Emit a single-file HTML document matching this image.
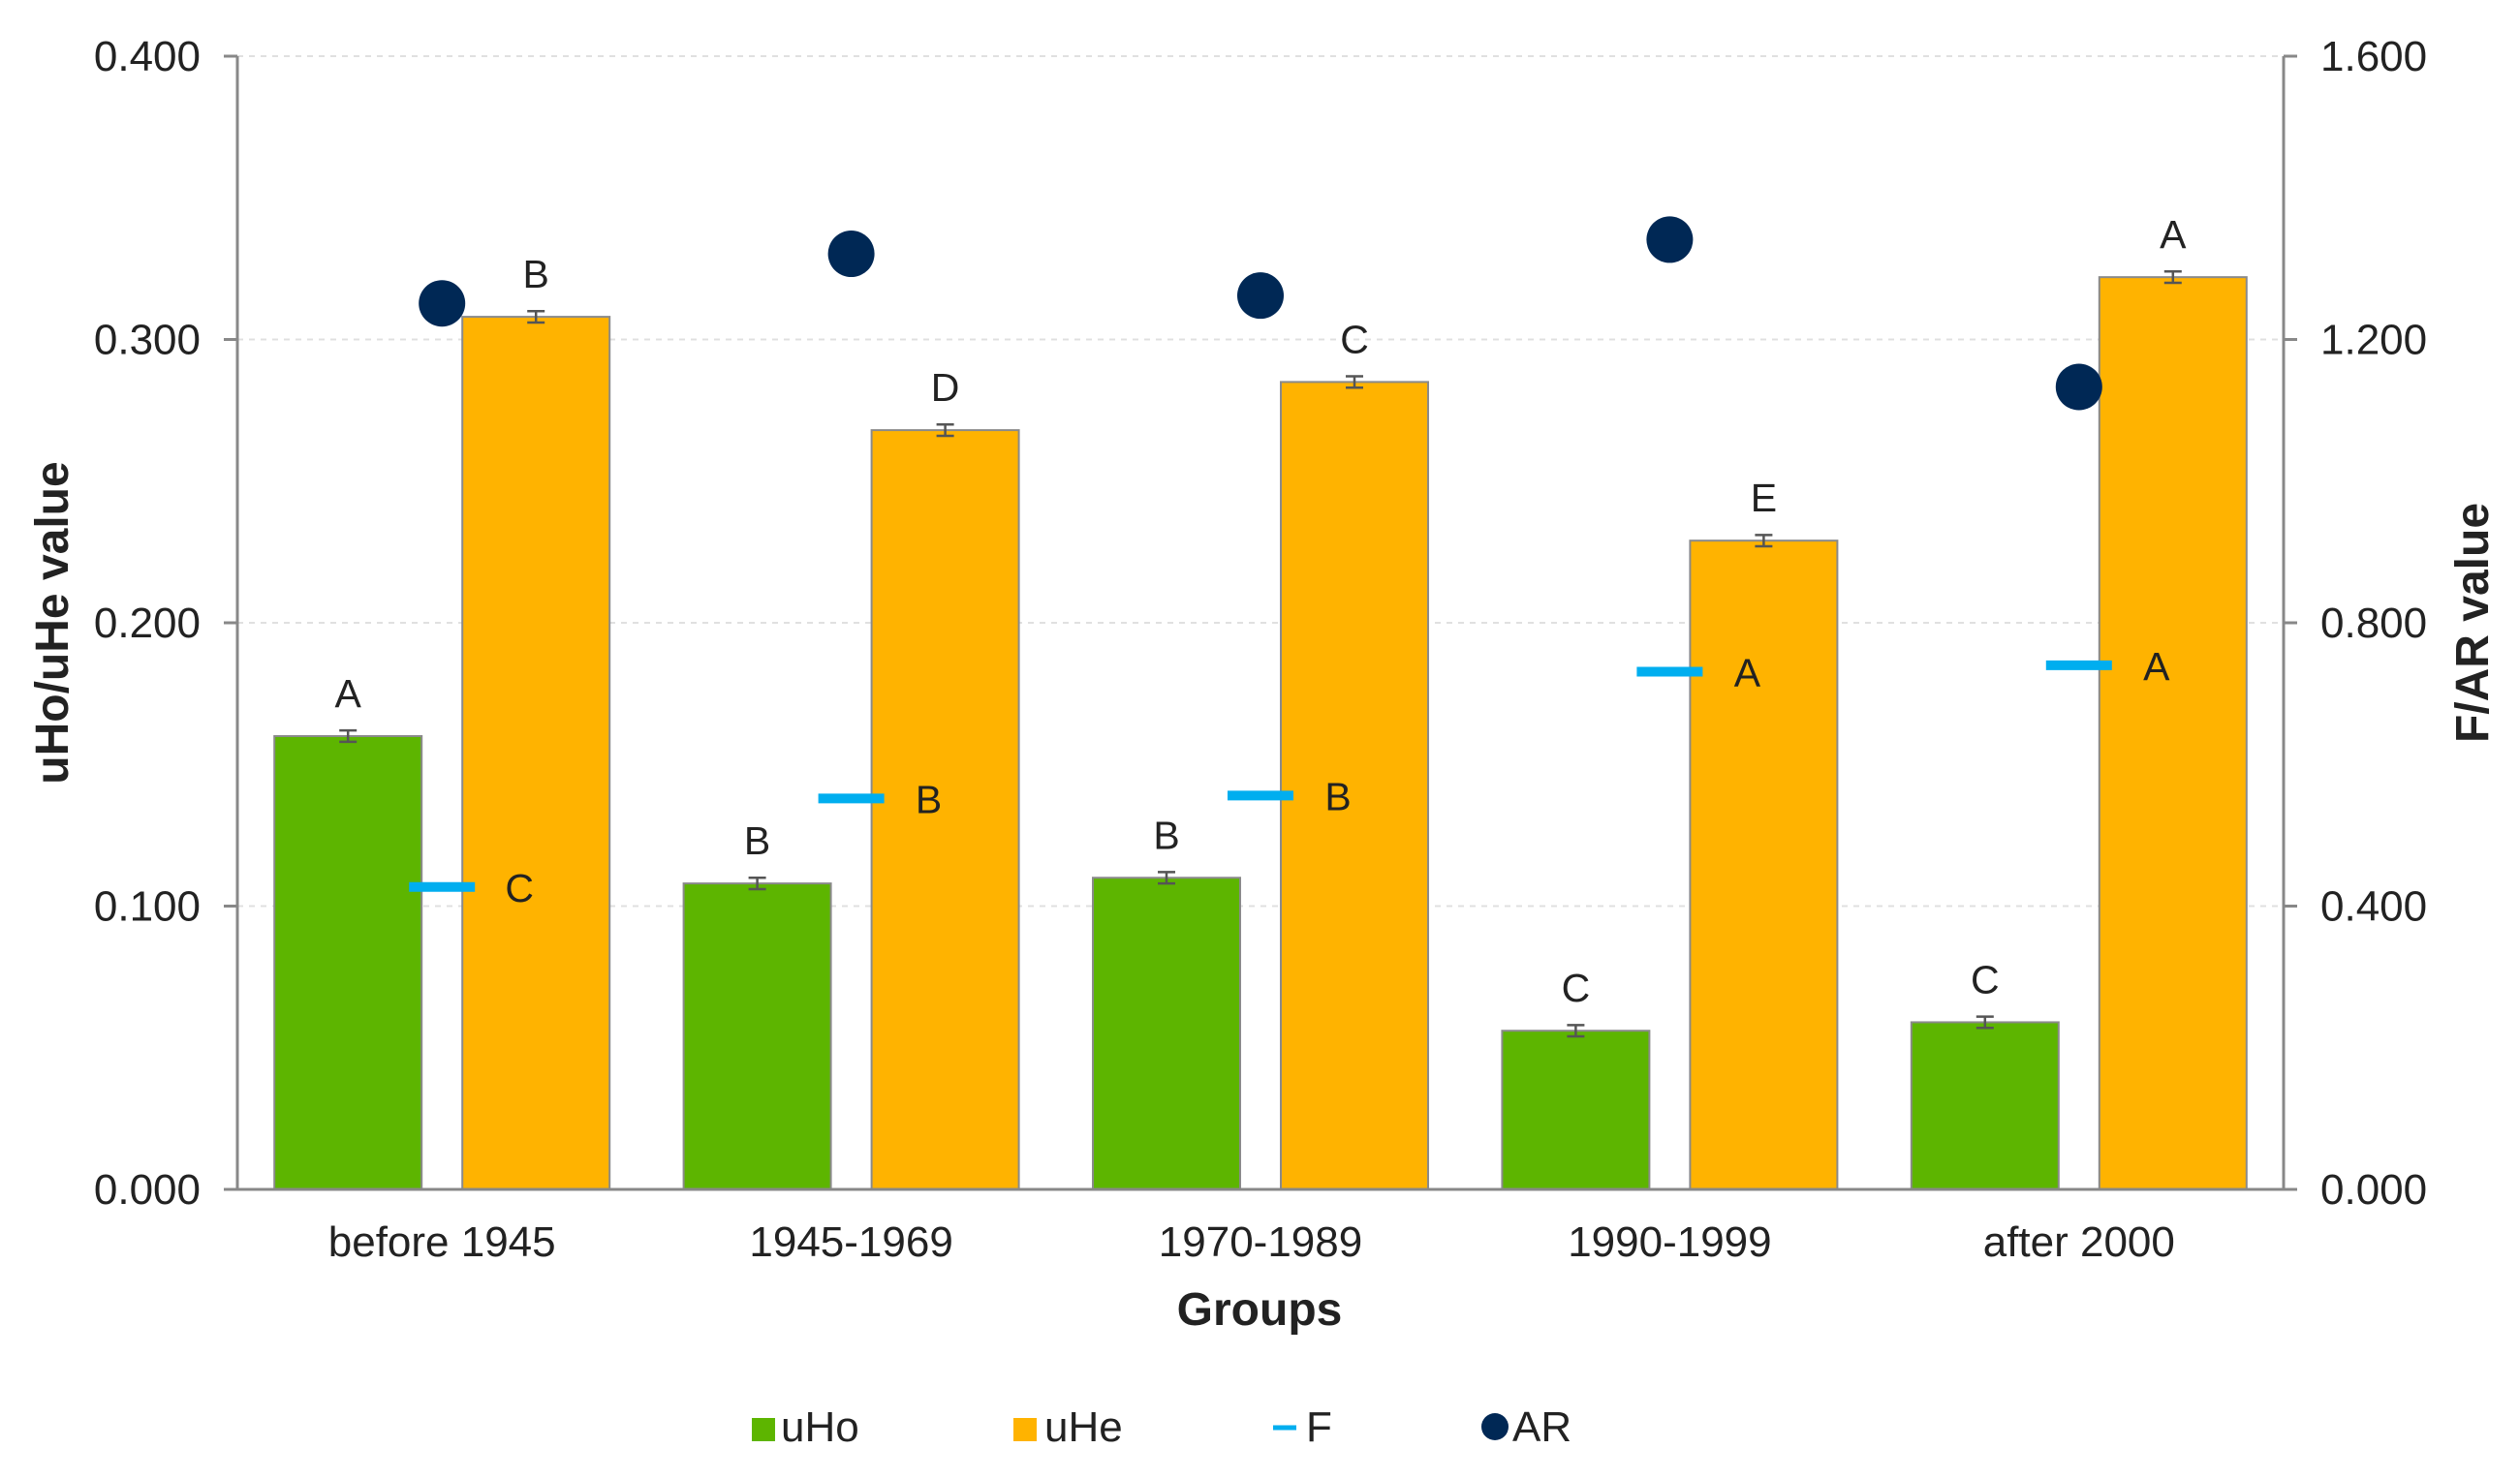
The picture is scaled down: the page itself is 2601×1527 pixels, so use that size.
<!DOCTYPE html>
<html><head><meta charset="utf-8"><style>
html,body{margin:0;padding:0;background:#fff;}
svg{display:block;font-family:"Liberation Sans",Arial,sans-serif;}
</style></head><body>
<svg id="chart" width="2601" height="1527" viewBox="0 0 2601 1527" xmlns="http://www.w3.org/2000/svg"></svg>
<script>
const categories = ["before 1945","1945-1969","1970-1989","1990-1999","after 2000"];
const uHo = [0.160,0.108,0.110,0.056,0.059];
const uHe = [0.308,0.268,0.285,0.229,0.322];
const Fvals = [0.427,0.552,0.556,0.731,0.740];
const ARvals = [1.251,1.321,1.262,1.341,1.133];
const uHoLetters = ["A","B","B","C","C"];
const uHeLetters = ["B","D","C","E","A"];
const FLetters = ["C","B","B","A","A"];
const leftTicks = [0,0.1,0.2,0.3,0.4];
const rightTicks = [0,0.4,0.8,1.2,1.6];
const errUHo = [0.002,0.002,0.002,0.002,0.002];
const errUHe = [0.002,0.002,0.002,0.002,0.002];

const svg = document.getElementById('chart');
const NS = "http://www.w3.org/2000/svg";
const X0=245, X1=2357, Y0=1228, Y1=58;
const band=(X1-X0)/categories.length;
const yL=v=>Y0-(v/0.4)*(Y0-Y1);
const yR=v=>Y0-(v/1.6)*(Y0-Y1);
const xC=i=>X0+band*(i+0.5);
function el(t,a,txt){const e=document.createElementNS(NS,t);for(const k in a)e.setAttribute(k,a[k]);if(txt!==undefined)e.textContent=txt;svg.appendChild(e);return e;}

leftTicks.forEach((v,i)=>{
  if(v>0){const g=el('line',{x1:X0,x2:X1,y1:yL(v),y2:yL(v),stroke:'#e0e0e0','stroke-width':2,'stroke-dasharray':'6,6'});
  
  }
  const t=el('line',{x1:X0-14,x2:X0,y1:yL(v),y2:yL(v),stroke:'#888','stroke-width':3});
  
  
  const l=el('text',{x:207,y:yL(v)+15,'text-anchor':'end','font-size':44,fill:'#222'},v.toFixed(3));
  
  
});
rightTicks.forEach(v=>{
  const t=el('line',{x1:X1,x2:X1+14,y1:yR(v),y2:yR(v),stroke:'#888','stroke-width':3});
  
  
  const l=el('text',{x:2395,y:yR(v)+15,'text-anchor':'start','font-size':44,fill:'#222'},v.toFixed(3));
  
  
});

const BW=152, OFF=97;
categories.forEach((c,i)=>{
  const cx=xC(i);
  let b=el('rect',{x:cx-OFF-BW/2,y:yL(uHo[i]),width:BW,height:Y0-yL(uHo[i]),fill:'#5db500',stroke:'#8a8a8a','stroke-width':2});
  
  
  b=el('rect',{x:cx+OFF-BW/2,y:yL(uHe[i]),width:BW,height:Y0-yL(uHe[i]),fill:'#ffb300',stroke:'#8a8a8a','stroke-width':2});
  
  
  [[cx-OFF,uHo[i],errUHo[i]],[cx+OFF,uHe[i],errUHe[i]]].forEach(([x,v,e])=>{
    const p=el('path',{d:`M${x-9},${yL(v+e)}H${x+9}M${x},${yL(v+e)}V${yL(v-e)}M${x-9},${yL(v-e)}H${x+9}`,stroke:'#555','stroke-width':2.5,fill:'none'});
    
    
  });
  let t=el('text',{x:cx-OFF,y:yL(uHo[i])-30,'text-anchor':'middle','font-size':41,fill:'#222'},uHoLetters[i]);
  
  
  t=el('text',{x:cx+OFF,y:yL(uHe[i])-30,'text-anchor':'middle','font-size':41,fill:'#222'},uHeLetters[i]);
  
  
  const f=el('line',{x1:cx-34,x2:cx+34,y1:yR(Fvals[i]),y2:yR(Fvals[i]),stroke:'#00aeef','stroke-width':10});
  
  
  t=el('text',{x:cx+80,y:yR(Fvals[i])+15,'text-anchor':'middle','font-size':41,fill:'#222'},FLetters[i]);
  
  
  const d=el('circle',{cx:cx,cy:yR(ARvals[i]),r:24,fill:'#002855'});
  
  
  t=el('text',{x:cx,y:1297,'text-anchor':'middle','font-size':44,fill:'#222'},c);
  
  
});

let a=el('line',{x1:X0,x2:X0,y1:Y1,y2:Y0,stroke:'#888','stroke-width':3});


a=el('line',{x1:X1,x2:X1,y1:Y1,y2:Y0,stroke:'#888','stroke-width':3});


a=el('line',{x1:X0,x2:X1,y1:Y0,y2:Y0,stroke:'#888','stroke-width':3});



let tt=el('text',{x:0,y:0,transform:'translate(70,643) rotate(-90)','text-anchor':'middle','font-size':48,'font-weight':'bold',fill:'#222'},'uHo/uHe value');


tt=el('text',{x:0,y:0,transform:'translate(2568,643) rotate(-90)','text-anchor':'middle','font-size':48,'font-weight':'bold',fill:'#222'},'F/AR value');


tt=el('text',{x:1300,y:1368,'text-anchor':'middle','font-size':48,'font-weight':'bold',fill:'#222'},'Groups');



const LY=1488;
let g=el('rect',{x:776,y:LY-24,width:24,height:24,fill:'#5db500'});


g=el('text',{x:806,y:LY,'font-size':44,fill:'#222'},'uHo');


g=el('rect',{x:1046,y:LY-24,width:24,height:24,fill:'#ffb300'});


g=el('text',{x:1078,y:LY,'font-size':44,fill:'#222'},'uHe');


g=el('line',{x1:1314,x2:1338,y1:LY-14,y2:LY-14,stroke:'#00aeef','stroke-width':5});


g=el('text',{x:1348,y:LY,'font-size':44,fill:'#222'},'F');


g=el('circle',{cx:1543,cy:LY-15,r:14,fill:'#002855'});


g=el('text',{x:1561,y:LY,'font-size':44,fill:'#222'},'AR');


</script>
</body></html>
